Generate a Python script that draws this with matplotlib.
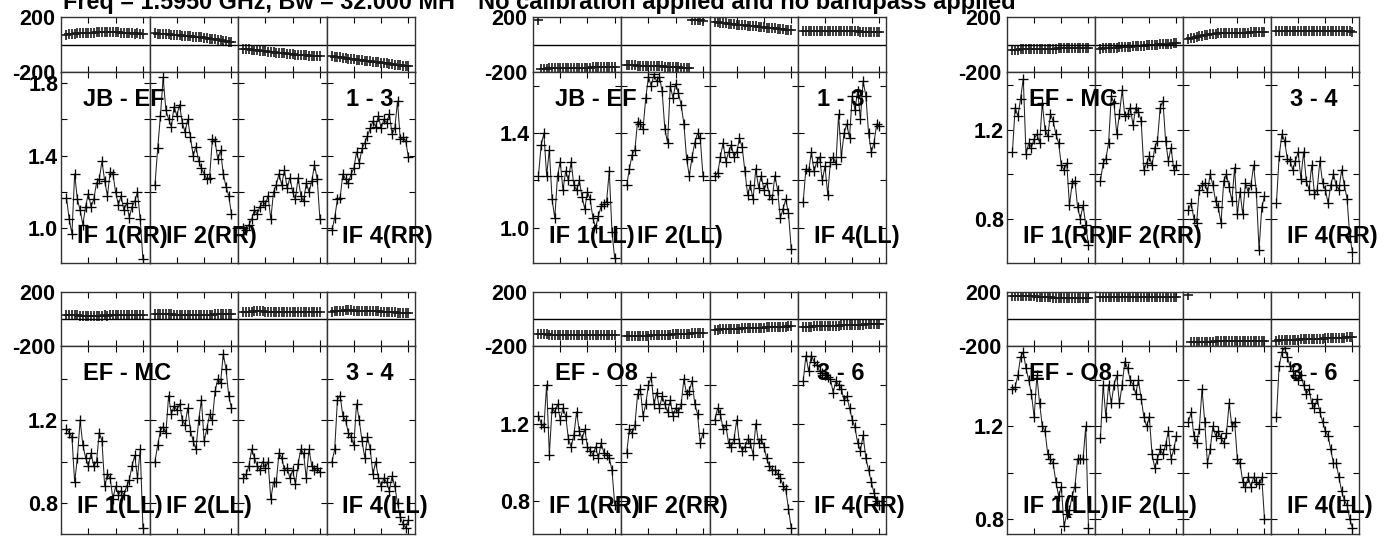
import numpy as np
import matplotlib
matplotlib.use("Agg")
import matplotlib.pyplot as plt

plt.rcParams['font.family'] = ['Liberation Sans', 'DejaVu Sans']
plt.rcParams['font.weight'] = 'bold'

# ---------------- data ----------------
CHANNELS = list(range(2, 31))
IF_XMAX = 32.4
X_TICKS = [10, 20, 30]

TITLE_LEFT = "Freq = 1.5950 GHz, Bw = 32.000 MH"
TITLE_RIGHT = "No calibration applied and no bandpass applied"

BASELINES = ["JB - EF", "JB - EF", "EF - MC", "EF - MC", "EF - O8", "EF - O8"]
ANT_PAIRS = ["1 - 3", "1 - 3", "3 - 4", "3 - 4", "3 - 6", "3 - 6"]
STOKES = ["RR", "LL", "RR", "LL", "RR", "LL"]
IF_LABELS = ["IF 1", "IF 2", None, "IF 4"]

AMP_LIMITS = [(0.81, 1.86), (0.85, 1.66), (0.60, 1.46), (0.65, 1.56), (0.63, 1.60), (0.735, 1.547)]
AMP_TICKS = [
    [1.0, 1.2, 1.4, 1.6, 1.8],
    [1.0, 1.2, 1.4, 1.6],
    [0.8, 1.0, 1.2, 1.4],
    [0.8, 1.0, 1.2, 1.4],
    [0.8, 1.0, 1.2, 1.4],
    [0.8, 1.0, 1.2, 1.4],
]
AMP_TICKLABELS = [
    ["1.0", "", "1.4", "", "1.8"],
    ["1.0", "", "1.4", ""],
    ["0.8", "", "1.2", ""],
    ["0.8", "", "1.2", ""],
    ["0.8", "", "1.2", ""],
    ["0.8", "", "1.2", ""],
]
PHASE_LIMITS = (-200, 200)
PHASE_TICKS = [-200, 200]
PHASE_TICKLABELS = ["-200", "200"]

AMP_JB_EF_RR = [
    [1.17, 1.05, 0.97, 1.30, 1.16, 1.10, 1.02, 1.12, 1.19, 1.12, 1.16, 1.25, 1.27, 1.37, 1.26, 1.18, 1.31, 1.30, 1.20, 1.13, 1.18, 1.10, 1.14, 1.06, 1.12, 1.15, 1.20, 1.05, 0.83],
    [1.24, 1.44, 1.62, 1.83, 1.65, 1.60, 1.56, 1.67, 1.62, 1.68, 1.58, 1.53, 1.60, 1.50, 1.40, 1.45, 1.37, 1.33, 1.30, 1.27, 1.28, 1.49, 1.48, 1.38, 1.43, 1.30, 1.23, 1.18, 1.08],
    [1.00, 0.99, 1.02, 1.05, 1.10, 1.08, 1.12, 1.15, 1.13, 1.18, 1.05, 1.20, 1.24, 1.30, 1.24, 1.32, 1.22, 1.28, 1.20, 1.16, 1.28, 1.18, 1.15, 1.25, 1.20, 1.26, 1.35, 1.27, 1.05],
    [0.99, 1.06, 1.16, 1.17, 1.30, 1.27, 1.25, 1.30, 1.33, 1.42, 1.36, 1.44, 1.47, 1.51, 1.55, 1.59, 1.56, 1.62, 1.55, 1.60, 1.58, 1.63, 1.52, 1.55, 1.70, 1.49, 1.50, 1.48, 1.39],
]
AMP_JB_EF_LL = [
    [1.22, 1.35, 1.40, 1.22, 1.33, 1.12, 1.04, 1.22, 1.28, 1.16, 1.24, 1.20, 1.28, 1.18, 1.16, 1.20, 1.13, 1.08, 1.15, 1.12, 1.04, 1.00, 1.05, 1.09, 1.10, 1.11, 1.24, 0.98, 0.87],
    [1.18, 1.25, 1.31, 1.33, 1.45, 1.44, 1.42, 1.55, 1.64, 1.60, 1.65, 1.62, 1.64, 1.58, 1.42, 1.36, 1.60, 1.55, 1.61, 1.57, 1.52, 1.44, 1.29, 1.22, 1.30, 1.36, 1.40, 1.38, 1.22],
    [1.22, 1.23, 1.30, 1.36, 1.28, 1.32, 1.35, 1.30, 1.32, 1.38, 1.34, 1.24, 1.14, 1.18, 1.12, 1.25, 1.17, 1.22, 1.16, 1.19, 1.14, 1.12, 1.22, 1.16, 1.04, 1.08, 1.12, 1.06, 0.91],
    [1.11, 1.25, 1.24, 1.32, 1.24, 1.28, 1.30, 1.20, 1.26, 1.14, 1.28, 1.30, 1.27, 1.48, 1.30, 1.40, 1.44, 1.38, 1.56, 1.50, 1.58, 1.46, 1.62, 1.56, 1.40, 1.32, 1.36, 1.44, 1.43],
]
AMP_EF_MC_RR = [
    [1.10, 1.30, 1.26, 1.34, 1.43, 1.09, 1.14, 1.12, 1.16, 1.18, 1.14, 1.32, 1.20, 1.17, 1.27, 1.24, 1.18, 1.14, 1.04, 1.02, 1.05, 0.86, 0.96, 0.97, 0.85, 0.80, 0.86, 0.77, 0.68],
    [0.97, 1.05, 1.07, 1.14, 1.35, 1.32, 1.18, 1.27, 1.38, 1.26, 1.27, 1.30, 1.22, 1.30, 1.28, 1.24, 1.02, 1.05, 1.08, 1.04, 1.12, 1.15, 1.30, 1.33, 1.15, 1.06, 1.12, 1.02, 1.04],
    [0.84, 0.87, 0.80, 0.78, 0.93, 0.95, 0.96, 0.92, 1.00, 0.95, 0.88, 0.85, 0.78, 0.97, 1.00, 0.94, 0.88, 1.03, 0.82, 0.92, 0.82, 0.96, 0.92, 0.95, 1.04, 0.92, 0.66, 0.85, 0.90],
    [0.87, 1.08, 1.18, 1.15, 1.07, 1.06, 1.02, 1.06, 1.10, 0.98, 1.10, 0.97, 0.93, 1.04, 0.91, 0.93, 1.06, 0.96, 0.93, 0.87, 0.95, 1.00, 0.95, 0.93, 1.02, 0.95, 0.89, 0.72, 0.65],
]
AMP_EF_MC_LL = [
    [1.16, 1.14, 1.12, 0.90, 1.02, 1.20, 1.08, 1.02, 0.98, 1.04, 0.98, 1.00, 1.14, 1.10, 0.88, 0.94, 0.92, 0.82, 0.88, 0.84, 0.86, 0.84, 0.88, 0.91, 0.98, 1.03, 0.92, 1.06, 0.68],
    [1.00, 1.08, 1.15, 1.17, 1.14, 1.32, 1.23, 1.27, 1.25, 1.28, 1.20, 1.18, 1.26, 1.15, 1.10, 1.06, 1.20, 1.30, 1.10, 1.16, 1.23, 1.20, 1.34, 1.40, 1.38, 1.52, 1.45, 1.32, 1.26],
    [0.92, 0.94, 0.98, 1.06, 1.02, 0.98, 0.96, 1.00, 0.97, 1.00, 0.82, 0.90, 0.90, 1.04, 1.02, 0.96, 0.97, 0.92, 0.96, 0.89, 0.99, 1.06, 1.04, 0.92, 1.06, 0.98, 0.96, 0.97, 0.95],
    [1.00, 1.06, 1.30, 1.32, 1.22, 1.20, 1.14, 1.12, 1.08, 1.28, 1.20, 1.10, 1.02, 1.12, 1.06, 0.94, 1.00, 0.92, 0.88, 0.92, 0.90, 0.86, 0.93, 0.88, 0.80, 0.73, 0.70, 0.68, 0.72],
]
AMP_EF_O8_RR = [
    [1.24, 1.20, 1.18, 1.40, 1.04, 1.28, 1.26, 1.30, 1.22, 1.28, 1.24, 1.12, 1.08, 1.14, 1.26, 1.16, 1.12, 1.17, 1.08, 1.06, 1.04, 1.08, 1.02, 1.10, 1.05, 1.04, 1.02, 0.96, 0.78],
    [1.05, 1.17, 1.15, 1.19, 1.35, 1.38, 1.24, 1.30, 1.40, 1.44, 1.30, 1.36, 1.28, 1.34, 1.30, 1.26, 1.32, 1.24, 1.28, 1.26, 1.30, 1.43, 1.35, 1.37, 1.42, 1.30, 1.25, 1.10, 1.15],
    [1.22, 1.28, 1.25, 1.17, 1.19, 1.10, 1.08, 1.12, 1.22, 1.10, 1.06, 1.08, 1.12, 1.10, 1.04, 1.20, 1.10, 1.12, 1.08, 1.02, 0.98, 0.96, 0.96, 0.94, 0.92, 0.88, 0.86, 0.76, 0.66],
    [1.42, 1.55, 1.47, 1.55, 1.52, 1.50, 1.47, 1.46, 1.45, 1.44, 1.43, 1.36, 1.42, 1.40, 1.38, 1.32, 1.34, 1.28, 1.22, 1.18, 1.10, 1.06, 1.14, 1.02, 0.96, 0.90, 0.84, 0.80, 0.78],
]
AMP_EF_O8_LL = [
    [1.36, 1.37, 1.42, 1.50, 1.52, 1.45, 1.40, 1.34, 1.24, 1.42, 1.30, 1.20, 1.18, 1.08, 1.06, 1.04, 0.96, 0.90, 0.94, 0.77, 0.82, 0.84, 0.90, 0.94, 1.06, 1.06, 1.06, 1.20, 0.76],
    [1.15, 1.38, 1.24, 1.38, 1.30, 1.38, 1.42, 1.30, 1.38, 1.48, 1.45, 1.40, 1.38, 1.34, 1.40, 1.32, 1.24, 1.20, 1.24, 1.08, 1.02, 1.06, 1.10, 1.08, 1.12, 1.18, 1.06, 1.10, 1.16],
    [1.22, 1.26, 1.16, 1.13, 1.19, 1.36, 1.22, 1.04, 1.10, 1.20, 1.16, 1.18, 1.15, 1.13, 1.17, 1.30, 1.20, 1.22, 1.06, 1.04, 0.96, 0.94, 0.98, 0.94, 0.98, 0.96, 0.95, 0.98, 0.80],
    [1.24, 1.46, 1.52, 1.54, 1.50, 1.46, 1.44, 1.42, 1.40, 1.42, 1.38, 1.34, 1.36, 1.30, 1.28, 1.32, 1.26, 1.22, 1.18, 1.16, 1.10, 1.04, 1.04, 0.98, 0.92, 0.88, 0.86, 0.80, 0.76],
]

PHS_JB_EF_RR = [
    [72, 75, 78, 80, 82, 81, 84, 85, 86, 85, 87, 88, 88, 90, 91, 92, 90, 91, 89, 88, 86, 85, 84, 83, 82, 80, 81, 79, 78],
    [82, 80, 79, 77, 75, 74, 72, 70, 69, 67, 65, 63, 62, 60, 58, 56, 53, 51, 48, 46, 43, 40, 37, 34, 31, 27, 24, 20, 16],
    [-30, -33, -36, -38, -41, -43, -46, -48, -50, -53, -55, -57, -59, -61, -63, -65, -67, -69, -71, -73, -75, -76, -78, -80, -81, -83, -84, -86, -87],
    [-85, -88, -91, -94, -97, -99, -102, -105, -107, -110, -112, -115, -118, -120, -123, -125, -128, -130, -133, -135, -138, -140, -143, -146, -148, -151, -154, -157, -160],
]
PHS_JB_EF_LL = [
    [178, -176, -175, -175, -174, -174, -173, -173, -172, -172, -171, -171, -170, -170, -170, -169, -169, -168, -168, -168, -167, -167, -167, -166, -166, -166, -165, -165, -164],
    [-150, -151, -152, -152, -153, -154, -155, -155, -156, -157, -158, -158, -159, -160, -161, -162, -163, -164, -165, -166, -168, -170, -172, -174, 178, 177, 176, 175, 174],
    [166, 164, 160, 157, 154, 151, 149, 147, 145, 143, 141, 139, 137, 135, 133, 131, 129, 127, 125, 123, 121, 119, 117, 115, 113, 111, 109, 108, 106],
    [100, 99, 99, 98, 98, 98, 97, 97, 97, 97, 96, 96, 96, 96, 96, 95, 95, 95, 95, 95, 95, 94, 94, 94, 94, 94, 93, 93, 93],
]
PHS_EF_MC_RR = [
    [-38, -37, -37, -36, -36, -35, -35, -34, -34, -33, -33, -32, -32, -31, -31, -30, -30, -29, -28, -28, -27, -26, -26, -25, -24, -24, -23, -22, -22],
    [-30, -29, -28, -27, -25, -24, -23, -21, -20, -19, -17, -16, -14, -13, -11, -10, -8, -7, -5, -4, -2, -1, 1, 2, 4, 5, 7, 8, 10],
    [40, 45, 50, 55, 60, 64, 68, 72, 75, 78, 80, 82, 83, 84, 85, 85, 86, 86, 86, 87, 87, 87, 87, 88, 88, 88, 89, 90, 92],
    [95, 96, 97, 98, 98, 99, 99, 99, 100, 100, 100, 100, 99, 99, 99, 99, 98, 98, 98, 97, 97, 97, 96, 96, 96, 95, 95, 95, 94],
]
PHS_EF_MC_LL = [
    [28, 30, 29, 27, 26, 25, 24, 24, 25, 23, 24, 25, 24, 25, 26, 25, 26, 27, 26, 27, 27, 26, 27, 28, 26, 27, 28, 27, 28],
    [35, 36, 37, 37, 36, 35, 34, 33, 33, 32, 31, 31, 30, 30, 30, 30, 31, 31, 32, 32, 33, 33, 34, 35, 35, 36, 36, 37, 38],
    [50, 52, 54, 55, 56, 57, 57, 56, 55, 54, 53, 52, 52, 51, 51, 51, 51, 52, 52, 52, 52, 53, 53, 53, 53, 53, 53, 53, 53],
    [55, 57, 59, 61, 62, 63, 63, 63, 62, 62, 61, 60, 60, 59, 58, 57, 57, 56, 55, 54, 53, 52, 50, 49, 48, 47, 46, 45, 44],
]
PHS_EF_O8_RR = [
    [-110, -112, -113, -114, -115, -115, -116, -116, -117, -117, -118, -118, -119, -119, -120, -120, -120, -121, -121, -121, -121, -121, -122, -122, -122, -121, -121, -121, -120],
    [-125, -126, -127, -127, -126, -125, -124, -124, -123, -122, -121, -120, -119, -118, -117, -116, -115, -114, -113, -112, -111, -110, -109, -108, -107, -106, -105, -104, -103],
    [-80, -78, -77, -76, -75, -74, -73, -72, -71, -71, -70, -69, -68, -67, -66, -66, -65, -64, -63, -62, -62, -61, -60, -59, -58, -57, -56, -55, -54],
    [-58, -57, -56, -56, -55, -54, -54, -53, -52, -52, -51, -50, -50, -49, -48, -47, -46, -46, -45, -44, -43, -42, -41, -40, -39, -38, -37, -36, -35],
]
PHS_EF_O8_LL = [
    [170, 172, 173, 172, 171, 170, 169, 168, 167, 166, 165, 164, 163, 161, 160, 159, 158, 157, 156, 155, 155, 154, 154, 153, 153, 153, 152, 152, 152],
    [164, 163, 163, 162, 162, 162, 161, 161, 161, 161, 162, 162, 162, 162, 163, 163, 163, 163, 164, 164, 164, 164, 165, 165, 165, 165, 166, 166, 166],
    [178, -170, -169, -169, -168, -168, -168, -167, -167, -167, -166, -166, -166, -166, -165, -165, -165, -165, -164, -164, -164, -164, -163, -163, -163, -163, -162, -162, -162],
    [-160, -159, -158, -157, -156, -155, -154, -153, -152, -151, -150, -150, -149, -148, -147, -146, -145, -145, -144, -143, -142, -141, -141, -140, -139, -138, -137, -136, -135],
]

AMPS = [AMP_JB_EF_RR, AMP_JB_EF_LL, AMP_EF_MC_RR, AMP_EF_MC_LL, AMP_EF_O8_RR, AMP_EF_O8_LL]
PHASES = [PHS_JB_EF_RR, PHS_JB_EF_LL, PHS_EF_MC_RR, PHS_EF_MC_LL, PHS_EF_O8_RR, PHS_EF_O8_LL]

# ---------------- layout (pixels) ----------------
W, H = 1393, 536
COLS = [(61, 415), (533, 886), (1007, 1359)]
ROWS = [(17, 72, 263), (292, 346, 534)]   # phase top, amp top, amp bottom
GROUP_POS = [(0, 0), (1, 0), (2, 0), (0, 1), (1, 1), (2, 1)]  # (col, row) per panel group

TICK_FS = 15.5
LABEL_FS = 17

fig = plt.figure(figsize=(W / 100, H / 100), dpi=100)


def px_axes(left, top, width, height):
    return fig.add_axes([left / W, 1 - (top + height) / H, width / W, height / H])


def break_wraps(vals):
    v = np.asarray(vals, dtype=float)
    out_x, out_y = [], []
    for k, (c, p) in enumerate(zip(CHANNELS, v)):
        if k > 0 and abs(p - v[k - 1]) > 180:
            out_x.append(np.nan)
            out_y.append(np.nan)
        out_x.append(c)
        out_y.append(p)
    return out_x, out_y


line_kw = dict(color='#222222', lw=0.75, marker='+', ms=6.5, mew=0.95, mec='black')
phase_kw = dict(color='#222222', lw=0.9, marker='+', ms=7, mew=1.2, mec='#1a1a1a')

for g in range(6):
    col, row = GROUP_POS[g]
    left, right = COLS[col]
    ptop, atop, abot = ROWS[row]
    sw = (right - left) / 4.0
    for i in range(4):
        x0 = left + i * sw
        axp = px_axes(x0, ptop, sw, atop - ptop)
        axa = px_axes(x0, atop, sw, abot - atop)

        # phase strip
        px_, py_ = break_wraps(PHASES[g][i])
        axp.plot(px_, py_, **phase_kw)
        axp.set_xlim(0, IF_XMAX)
        axp.set_ylim(*PHASE_LIMITS)
        axp.axhline(0, color='black', lw=1.0)
        axp.set_xticks(X_TICKS)
        axp.set_yticks(PHASE_TICKS)
        axp.set_yticklabels(PHASE_TICKLABELS if i == 0 else [''] * len(PHASE_TICKS),
                            fontsize=TICK_FS, fontweight='bold')
        axp.tick_params(axis='x', direction='in', length=4, top=True, bottom=True,
                        labelbottom=False, width=0.8)
        axp.tick_params(axis='y', length=0, pad=4, labelleft=(i == 0))

        # amplitude panel
        axa.plot(CHANNELS, AMPS[g][i], **line_kw)
        axa.set_xlim(0, IF_XMAX)
        axa.set_ylim(*AMP_LIMITS[g])
        axa.set_xticks(X_TICKS)
        axa.set_yticks(AMP_TICKS[g])
        axa.set_yticklabels(AMP_TICKLABELS[g] if i == 0 else [''] * len(AMP_TICKS[g]),
                            fontsize=TICK_FS, fontweight='bold')
        axa.tick_params(axis='both', direction='in', length=4, top=True, right=True,
                        labelbottom=False, width=0.8)
        axa.tick_params(axis='y', pad=2, labelleft=(i == 0))

        for ax in (axp, axa):
            for s in ax.spines.values():
                s.set_linewidth(1.0)
                s.set_color('#333333')

        # IF labels
        if IF_LABELS[i] is not None:
            fig.text((x0 + 16) / W, 1 - (abot - 27) / H,
                     f"{IF_LABELS[i]}({STOKES[g]})", fontsize=LABEL_FS,
                     fontweight='bold', ha='left', va='center')

    # baseline & antenna pair labels
    fig.text((left + 22) / W, 1 - (atop + 27) / H, BASELINES[g], fontsize=LABEL_FS,
             fontweight='bold', ha='left', va='center')
    fig.text((left + 3 * sw + 19) / W, 1 - (atop + 27) / H, ANT_PAIRS[g],
             fontsize=LABEL_FS, fontweight='bold', ha='left', va='center')

fig.text(63 / W, 1 - 9 / H, TITLE_LEFT, fontsize=16.8, fontweight='bold',
         ha='left', va='baseline')
fig.text(478 / W, 1 - 9 / H, TITLE_RIGHT, fontsize=17, fontweight='bold',
         ha='left', va='baseline')

fig.savefig("out.png", dpi=100)
